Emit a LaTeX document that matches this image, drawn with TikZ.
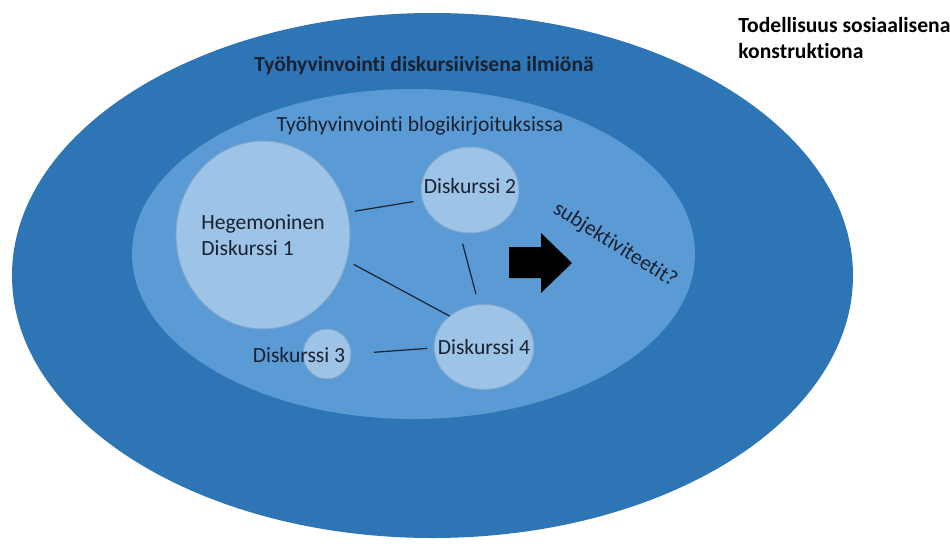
\documentclass[tikz,border=0pt]{standalone}
\usepackage{fontspec}
\setmainfont{Carlito}[Ligatures=NoCommon]
\usetikzlibrary{shapes.geometric}
\definecolor{outerBlue}{HTML}{2E75B6}
\definecolor{innerBlue}{HTML}{5B9BD5}
\definecolor{discBlue}{HTML}{9DC3E6}
\definecolor{discEdge}{HTML}{7FA6CC}
\definecolor{inkDark}{HTML}{1A2130}

\begin{document}
\begin{tikzpicture}[x=0.5pt, y=-0.5pt,
  every node/.style={font=\fontsize{10.8}{13}\selectfont, text=inkDark},
  disc/.style={ellipse, fill=discBlue, draw=discEdge, line width=0.5pt, inner sep=0pt, outer sep=0pt},
  link/.style={draw=inkDark, line width=0.6pt}]
  % 1 unit = 1 px of the 950 x 543 layout, y runs downwards
  \useasboundingbox (0,0) rectangle (950,543);
  % nested ellipses: reality > phenomenon > blog texts
  \fill[outerBlue] (432.5,275.5) ellipse [x radius=420.5, y radius=262.5];
  \fill[innerBlue] (413.5,254) ellipse [x radius=281.5, y radius=165];
  % titles
  \node[font=\bfseries\fontsize{10.8}{13}\selectfont, text=black, align=left, anchor=west, inner sep=0pt] (real) at (738,38) {Todellisuus sosiaalisena\\konstruktiona};
  \node[font=\bfseries\fontsize{10.8}{13}\selectfont] (phen) at (424,66) {Työhyvinvointi diskursiivisena ilmiönä};
  \node (blog) at (420,126) {Työhyvinvointi blogikirjoituksissa};
  % discourses
  \node[disc, minimum width=87pt, minimum height=94pt, label={[align=left]center:Hegemoninen\\Diskurssi 1}] (d1) at (263,235) {};
  \node[disc, minimum width=49pt, minimum height=43pt, label={[yshift=2pt]center:Diskurssi 2}] (d2) at (470,190) {};
  \node[disc, minimum width=24pt, minimum height=25pt] (d3) at (327,354) {};
  \node (t3) at (299,355) {Diskurssi 3};
  \node[disc, minimum width=50pt, minimum height=42.5pt, label=center:Diskurssi 4] (d4) at (484,347) {};
  % links between discourses (short gaps at the ends)
  \draw[link, shorten <=3.8pt, shorten >=4.5pt] (d1.15) -- (d2.192);
  \draw[link, shorten <=4pt] (d1.343) -- (d4.138);
  \draw[link, shorten <=6pt, shorten >=5.5pt] (d2.256) -- (d4.97);
  \draw[link, shorten <=11.5pt, shorten >=3.5pt] (d3.0) -- (d4.181);
  % block arrow towards subjectivities
  \fill[black] (509,247) -- (541,247) -- (541,233) -- (572,263) -- (541,293) -- (541,278) -- (509,278) -- cycle;
  \node[rotate=-32] (subj) at (615,245) {subjektiviteetit?};
\end{tikzpicture}
\end{document}
